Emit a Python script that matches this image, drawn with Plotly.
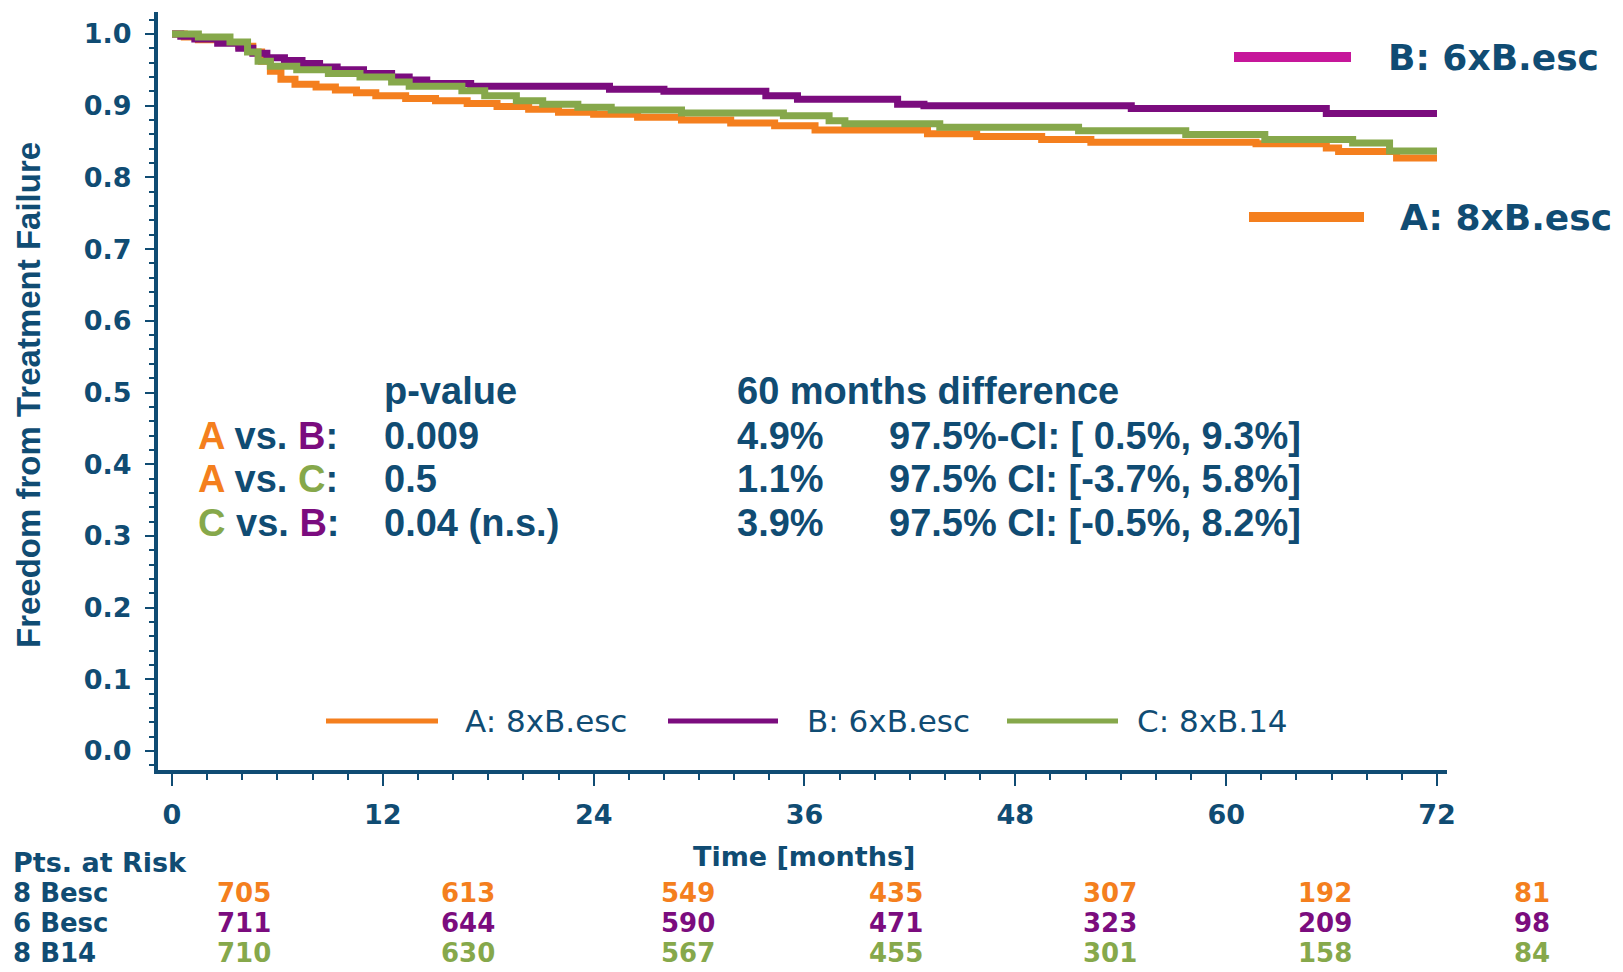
import plotly.graph_objects as go

# ---- Kaplan-Meier step estimates: months since randomisation vs. freedom from treatment failure
arm_a_months = [0, 0.7, 1.5, 2.8, 3.8, 4.6, 5.1, 5.6, 6.2, 7.0, 8.2, 9.3, 10.5, 11.6, 13.3, 15.0,
                16.8, 18.5, 20.3, 22.0, 24.0, 26.5, 29.0, 31.8, 34.3, 36.6, 43.0, 45.8, 49.5,
                52.3, 61.7, 65.7, 66.4, 69.7, 72.0]
arm_a_ffs = [1.000, 0.996, 0.992, 0.988, 0.983, 0.975, 0.962, 0.948, 0.937, 0.930, 0.926, 0.922,
             0.918, 0.914, 0.910, 0.907, 0.903, 0.899, 0.895, 0.891, 0.888, 0.884, 0.880, 0.876,
             0.872, 0.866, 0.861, 0.857, 0.853, 0.849, 0.847, 0.841, 0.836, 0.827, 0.827]

arm_b_months = [0, 0.5, 1.3, 2.6, 3.8, 4.6, 5.4, 6.4, 7.4, 8.4, 9.4, 10.9, 12.5, 13.5, 14.5, 17.0,
                24.9, 28.0, 33.8, 35.6, 41.3, 42.8, 54.6, 65.7, 72.0]
arm_b_ffs = [1.000, 0.997, 0.993, 0.987, 0.980, 0.973, 0.967, 0.963, 0.959, 0.954, 0.950, 0.945,
             0.940, 0.936, 0.931, 0.927, 0.923, 0.920, 0.914, 0.909, 0.902, 0.900, 0.896, 0.889,
             0.889]

arm_c_months = [0, 1.5, 3.3, 4.3, 4.9, 5.6, 7.1, 8.9, 10.7, 12.5, 13.5, 16.5, 17.8, 19.6, 21.1,
                23.1, 25.0, 29.0, 34.8, 37.4, 38.3, 43.7, 51.6, 57.7, 62.2, 67.2, 69.3, 72.0]
arm_c_ffs = [1.000, 0.996, 0.989, 0.975, 0.962, 0.955, 0.950, 0.945, 0.940, 0.933, 0.927, 0.921,
             0.914, 0.907, 0.902, 0.898, 0.894, 0.890, 0.886, 0.879, 0.875, 0.870, 0.865, 0.860,
             0.853, 0.848, 0.837, 0.837]

arm_names = ["A: 8xB.esc", "B: 6xB.esc", "C: 8xB.14"]
x_ticks = [0, 12, 24, 36, 48, 60, 72]
y_ticks = [0.0, 0.1, 0.2, 0.3, 0.4, 0.5, 0.6, 0.7, 0.8, 0.9, 1.0]

# ---- numbers at risk
risk_rows = ["8 Besc", "6 Besc", "8 B14"]
risk_a = [705, 613, 549, 435, 307, 192, 81]
risk_b = [711, 644, 590, 471, 323, 209, 98]
risk_c = [710, 630, 567, 455, 301, 158, 84]

# ---- pairwise comparisons
comparisons = [("A", "B"), ("A", "C"), ("C", "B")]
p_values = ["0.009", "0.5", "0.04 (n.s.)"]
diff_60 = ["4.9%", "1.1%", "3.9%"]
ci_texts = ["97.5%-CI: [ 0.5%, 9.3%]", "97.5% CI: [-3.7%, 5.8%]", "97.5% CI: [-0.5%, 8.2%]"]

# ---- styling
NAVY = "#104c73"
ORANGE = "#f47f1e"
PURPLE = "#7b0c7e"
GREEN = "#86a84b"
MAGENTA = "#c6169a"
arm_colors = {"A": ORANGE, "B": PURPLE, "C": GREEN}
WIDE = "DejaVu Sans"
ARIAL = "Liberation Sans"

W, H = 1623, 972
L, R, T, B = 158, 176, 12, 202
PW, PH = W - L - R, H - T - B


def px(x):
    return (x - L) / PW


def py(y):
    return (H - B - y) / PH


fig = go.Figure()

for months, ffs, color, name in [(arm_a_months, arm_a_ffs, ORANGE, arm_names[0]),
                                 (arm_b_months, arm_b_ffs, PURPLE, arm_names[1]),
                                 (arm_c_months, arm_c_ffs, GREEN, arm_names[2])]:
    fig.add_trace(go.Scatter(x=months, y=ffs, mode="lines", name=name,
                             line=dict(color=color, width=7, shape="hv"),
                             showlegend=False, hoverinfo="skip"))

annotations = []


def text(x, y, s, size, family=ARIAL, bold=True, color=NAVY, xanchor="left", angle=0):
    annotations.append(dict(
        x=px(x), y=py(y), xref="paper", yref="paper", text=s, showarrow=False,
        xanchor=xanchor, yanchor="middle", textangle=angle, borderpad=0,
        font=dict(family=family, size=size, color=color, weight="bold" if bold else "normal")))


shapes = []


def seg(x0, x1, y, color, width):
    shapes.append(dict(type="line", xref="paper", yref="paper",
                       x0=px(x0), x1=px(x1), y0=py(y), y1=py(y),
                       line=dict(color=color, width=width)))


# axis titles
text(28, 395, "Freedom from Treatment Failure", 33, angle=-90, xanchor="center")
text(804, 857, "Time [months]", 27, family=WIDE, xanchor="center")

# statistics block
text(383, 391, "p-value", 38)
text(736, 391, "60 months difference", 38)
for i, (a, b) in enumerate(comparisons):
    yy = 436 + i * 43.5
    label = (f'<span style="color:{arm_colors[a]}">{a}</span> vs. '
             f'<span style="color:{arm_colors[b]}">{b}</span>:')
    text(197, yy, label, 38)
    text(383, yy, p_values[i], 38)
    text(736, yy, diff_60[i], 38)
    text(888, yy, ci_texts[i], 38)

# labels at the right end of the curves
seg(1234, 1351, 57, MAGENTA, 10)
text(1387, 57, arm_names[1], 36, family=WIDE)
seg(1249, 1364, 217, ORANGE, 10)
text(1399, 217, arm_names[0], 36, family=WIDE)

# legend inside the plot area
for (x0, x1, tx), color, name in zip([(326, 438, 464), (668, 778, 806), (1007, 1118, 1136)],
                                     [ORANGE, PURPLE, GREEN], arm_names):
    seg(x0, x1, 721, color, 5)
    text(tx, 721, name, 31, family=WIDE, bold=False)

# numbers at risk table
TABLE_FONT = 25
text(12, 863, "Pts. at Risk", 27, family=WIDE)
col_x = [244, 468, 688, 896, 1110, 1325, 1532]
for r, (row, vals, color) in enumerate(zip(risk_rows, [risk_a, risk_b, risk_c],
                                           [ORANGE, PURPLE, GREEN])):
    yy = 893 + r * 30
    text(12, yy, row, TABLE_FONT + 1, family=WIDE)
    for cx, v in zip(col_x, vals):
        text(cx, yy, str(v), TABLE_FONT + 1, family=WIDE, color=color, xanchor="center")

fig.update_layout(
    width=W, height=H, margin=dict(l=L, r=R, t=T, b=B),
    paper_bgcolor="white", plot_bgcolor="white",
    annotations=annotations, shapes=shapes, showlegend=False,
    xaxis=dict(range=[-0.797, 72.57], tickvals=x_ticks, ticktext=[str(t) for t in x_ticks],
               showgrid=False, zeroline=False, showline=True, linecolor=NAVY, linewidth=4,
               ticks="outside", ticklen=12, tickwidth=2, tickcolor=NAVY,
               minor=dict(dtick=2, tick0=0, ticklen=6, tickwidth=1.5, tickcolor=NAVY,
                          ticks="outside", showgrid=False),
               tickfont=dict(family=WIDE, size=27, color=NAVY, weight="bold"),
               ticklabelstandoff=6),
    yaxis=dict(range=[-0.0265, 1.0307], tickvals=y_ticks, ticktext=[f"{t:.1f}" for t in y_ticks],
               showgrid=False, zeroline=False, showline=True, linecolor=NAVY, linewidth=4,
               ticks="outside", ticklen=9, tickwidth=2, tickcolor=NAVY,
               minor=dict(dtick=0.02, tick0=0, ticklen=5, tickwidth=1.5, tickcolor=NAVY,
                          ticks="outside", showgrid=False),
               tickfont=dict(family=WIDE, size=27, color=NAVY, weight="bold"),
               ticklabelstandoff=8),
)

fig.write_html("out.html")
